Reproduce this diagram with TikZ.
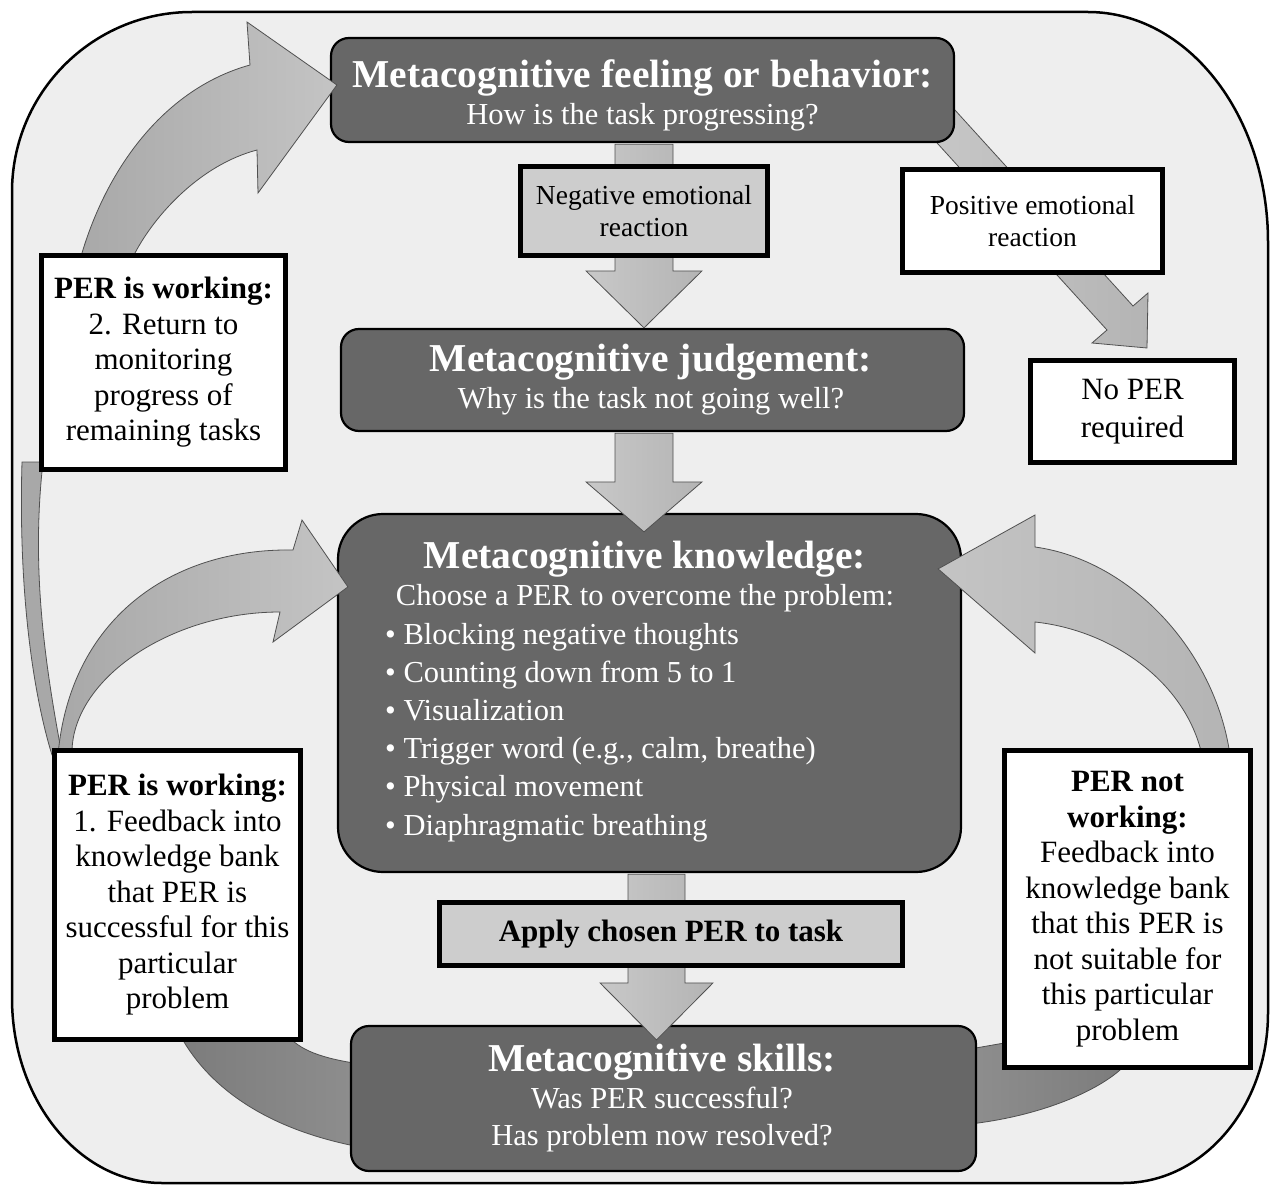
\documentclass[tikz,border=0pt]{standalone}
\usepackage{fontspec}
\setmainfont{Liberation Serif}
\usetikzlibrary{calc}
\pgfdeclarelayer{framelayer}
\pgfdeclarelayer{bandlayer}
\pgfdeclarelayer{darklayer}
\pgfdeclarelayer{arrowlayer}
\pgfsetlayers{framelayer,bandlayer,darklayer,arrowlayer,main}
\definecolor{dboxc}{HTML}{676767}
\definecolor{lboxc}{HTML}{CDCDCD}
\definecolor{bgc}{HTML}{EEEEEE}
\definecolor{alinec}{HTML}{505050}
\definecolor{arA}{HTML}{C8C8C8}
\definecolor{arB}{HTML}{B4B4B4}
\definecolor{crA}{HTML}{A8A8A8}
\definecolor{crB}{HTML}{C4C4C4}
\definecolor{bdA}{HTML}{7C7C7C}
\definecolor{bdB}{HTML}{8E8E8E}
\newcommand\ttlfont{\fontsize{39.5}{37}\selectfont\bfseries}
\newcommand\subfont{\fontsize{30.5}{37}\selectfont}
\tikzset{
  darkbox/.style={draw=black, line width=2.2pt, fill=dboxc, rounded corners=18pt, inner sep=0pt},
  darktext/.style={text=white, inner sep=0pt, anchor=base, font=\subfont},
  whitebox/.style={draw=black, line width=5pt, fill=white, align=center, inner sep=0pt, font=\fontsize{31}{35.5}\selectfont},
  lightbox/.style={whitebox, fill=lboxc},
  vshade/.style={draw=alinec, line width=0.8pt, left color=arA, right color=arB},
  cshade/.style={draw=alinec, line width=0.8pt, left color=crA, right color=crB},
  rshade/.style={draw=alinec, line width=0.8pt, left color=crB, right color=arB},
  bshade/.style={draw=alinec, line width=0.8pt, left color=bdA, right color=bdB},
}
\newcommand\vblock[5]{%
  \path[vshade] let \p1=#1, \p2=#2 in
   (\x2-#3pt,\y1) -- (\x2+#3pt,\y1) -- (\x2+#3pt,\y2+#5pt) -- (\x2+#4pt,\y2+#5pt)
   -- (\x2,\y2) -- (\x2-#4pt,\y2+#5pt) -- (\x2-#3pt,\y2+#5pt) -- cycle;}
\begin{document}
\begin{tikzpicture}[x=1pt,y=-1pt]
\useasboundingbox (0,0) rectangle (1272,1185);
\begin{pgfonlayer}{framelayer}
\fill[white] (0,0) rectangle (1272,1185);
\draw[line width=2.5pt, fill=bgc] (12,192) .. controls (12,92.6) and (92.6,12) .. (192,12)
  -- (1088,12) .. controls (1187.4,12) and (1268,115) .. (1268,242)
  -- (1268,1013) .. controls (1268,1106.9) and (1203.1,1183) .. (1123,1183)
  -- (162,1183) .. controls (79.2,1183) and (12,1100.2) .. (12,998) -- cycle;
\end{pgfonlayer}

% dark boxes
\begin{pgfonlayer}{darklayer}
\node[darkbox, minimum width=623, minimum height=104] (feel) at (642.5,90) {};
\node[darkbox, minimum width=623, minimum height=102] (judge) at (652.5,380) {};
\node[darkbox, rounded corners=45pt, minimum width=623, minimum height=358] (know) at (649.5,693) {};
\node[darkbox, minimum width=625, minimum height=145] (skills) at (663.5,1098.5) {};
\node[darktext] (feel-t) at (642.5,88) {\begin{tabular}[t]{@{}c@{}}{\ttlfont Metacognitive feeling or behavior:}\\ How is the task progressing?\end{tabular}};
\node[darktext] (judge-t) at (651,371) {\begin{tabular}[t]{@{}c@{}}{\ttlfont Metacognitive judgement:}\\ Why is the task not going well?\end{tabular}};
\node[darktext] (know-t) at (645,568) {\begin{tabular}[t]{@{}c@{}}{\ttlfont Metacognitive knowledge:}\\ Choose a PER to overcome the problem:\end{tabular}};
\node[darktext, anchor=base west, font=\fontsize{30.5}{38.2}\selectfont] (know-l) at (385,644) {\begin{tabular}[t]{@{}l@{}}• Blocking negative thoughts\\ • Counting down from 5 to 1\\ • Visualization\\ • Trigger word (e.g., calm, breathe)\\ • Physical movement\\ • Diaphragmatic breathing\end{tabular}};
\node[darktext] (skills-t) at (662,1071) {\begin{tabular}[t]{@{}c@{}}{\ttlfont Metacognitive skills:}\\ Was PER successful?\\ Has problem now resolved?\end{tabular}};
\end{pgfonlayer}

% white and light boxes
\node[lightbox, font=\fontsize{27.5}{32}\selectfont, minimum width=247, minimum height=89] (neg) at (644,211) {Negative emotional\\reaction};
\node[whitebox, font=\fontsize{27.5}{32}\selectfont, minimum width=260, minimum height=103] (pos) at (1032.5,221) {Positive emotional\\reaction};
\node[whitebox, font=\fontsize{31}{38}\selectfont, minimum width=204, minimum height=102] (noper) at (1132.5,411.5) {No PER\\required};
\node[lightbox, font=\fontsize{31}{35}\selectfont\bfseries, minimum width=463, minimum height=63] (apply) at (671,934) {Apply chosen PER to task};
\node[whitebox, minimum width=244, minimum height=214] (per2) at (163.5,362.5) {\textbf{PER is working:}\\2. Return to\\monitoring\\progress of\\remaining tasks};
\node[whitebox, minimum width=246, minimum height=289] (per1) at (177.5,895) {\textbf{PER is working:}\\1. Feedback into\\knowledge bank\\that PER is\\successful for this\\particular\\problem};
\node[whitebox, minimum width=246, minimum height=317] (pernot) at (1127.5,909) {\textbf{PER not}\\\textbf{working:}\\Feedback into\\knowledge bank\\that this PER is\\not suitable for\\this particular\\problem};

% column coordinates for the straight arrows
\coordinate (cA) at (644,0);
\coordinate (cB) at (656.5,0);

\begin{pgfonlayer}{arrowlayer}
\vblock{($(feel.south -| cA)+(0,1.2)$)}{(judge.north -| cA)}{29}{58}{57}
\vblock{($(judge.south -| cA)+(0,1.2)$)}{($(know.north -| cA)+(0,19)$)}{29}{58}{50}
\vblock{($(know.south -| cB)+(0,1.2)$)}{($(skills.north -| cB)+(0,15)$)}{28.5}{56.5}{57}
% upper left curved arrow: PER is working (2) -> feeling
\path[cshade] (75,275) -- (82,253) .. controls (110,160) and (170,87) .. (250,65) -- (247,22)
  -- ($(feel.west)+(7,-5)$) -- (258,193) -- (257,150) .. controls (200,165) and (155,215) .. (135,253) -- (128,275) -- cycle;
\path[draw=alinec, line width=0.8pt, fill=crA] (22,462) .. controls (18,600) and (35,700) .. (52,755)
  -- (62,755) .. controls (42,650) and (32,560) .. (43,462) -- cycle;
% lower left curved arrow: PER is working (1) -> knowledge
\path[cshade] (58,755) .. controls (70,620) and (170,548) .. (293,550) -- (302,520)
  -- ($(know.north west)+(11,74)$) -- (273,642) -- (280,612) .. controls (170,612) and (70,680) .. (72,755) -- cycle;
% right curved arrow: PER not working -> knowledge
\path[rshade] (1035,547) -- (1035,515) -- ($(know.north east)+(-24,56)$) -- (1035,653) -- (1035,622)
  .. controls (1110,630) and (1185,680) .. (1202,755) -- (1230,755) .. controls (1215,650) and (1130,560) .. (1035,547) -- cycle;
\end{pgfonlayer}

\begin{pgfonlayer}{bandlayer}
% skills -> PER is working (1)
\path[bshade] (180,1035) .. controls (210,1090) and (270,1130) .. (360,1147) -- (360,1064)
  .. controls (320,1058) and (300,1050) .. (287,1035) -- cycle;
% skills -> PER not working
\path[bshade, left color=bdB, right color=bdA] (970,1049) -- (1010,1042) -- (1125,1050) -- (1120,1070)
  .. controls (1095,1092) and (1040,1116) .. (970,1124) -- cycle;
% feeling -> no PER required
\path[vshade] (944,98) -- (1133,306) -- (1148,293) -- ($(noper.north)+(14.5,-10)$) -- (1092,343) -- (1107,330) -- (918,122) -- cycle;
\end{pgfonlayer}
\end{tikzpicture}
\end{document}
